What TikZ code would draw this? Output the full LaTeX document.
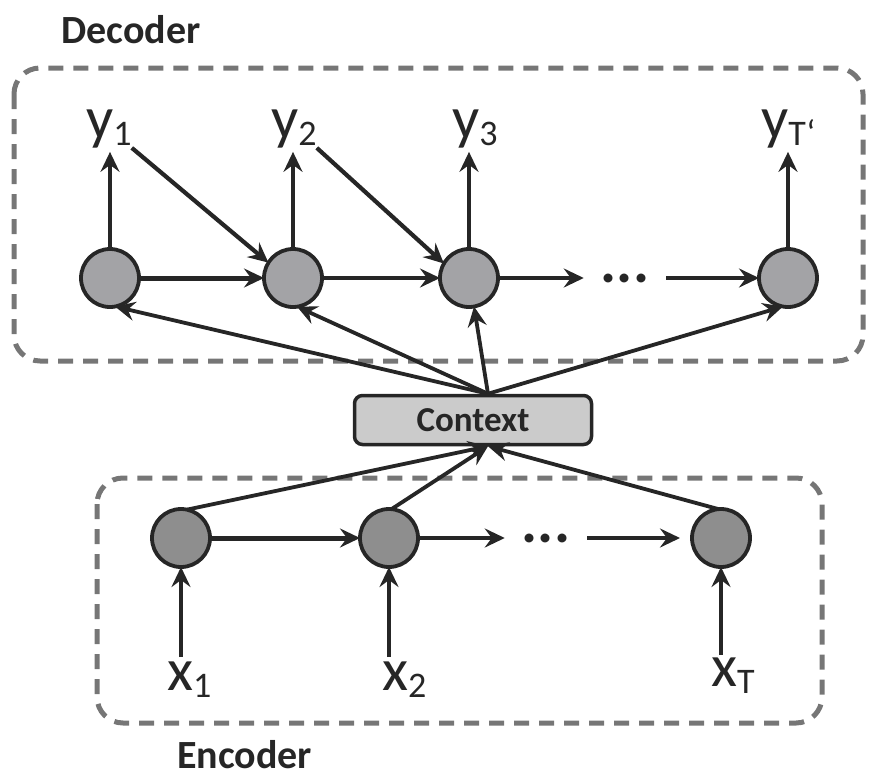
\documentclass[tikz,border=0pt]{standalone}
\usepackage{fontspec}
\setmainfont{Carlito}
\usetikzlibrary{arrows.meta}
\definecolor{ink}{HTML}{262626}
\definecolor{dashgray}{HTML}{767676}
\definecolor{decfill}{HTML}{A3A3A6}
\definecolor{encfill}{HTML}{8E8E8E}
\definecolor{ctxfill}{HTML}{CBCBCB}
\newcommand\lsub[1]{\raisebox{-7.5pt}{\fontsize{36}{36}\selectfont #1}}
\begin{document}
\begin{tikzpicture}[x=1pt,y=-1pt,
  dashbox/.style={draw=dashgray, line width=5pt, dash pattern=on 15pt off 10pt, rounded corners=26pt},
  cell/.style={circle, draw=ink, line width=3.8pt, minimum size=58pt, inner sep=0pt, outer sep=0pt},
  dcell/.style={cell, fill=decfill},
  ecell/.style={cell, fill=encfill},
  arr/.style={draw=ink, line width=3.8pt, -{Stealth[length=20pt,width=19pt,inset=7pt]}},
  thickarr/.style={arr, line width=5pt},
  lab/.style={inner sep=0pt, anchor=base west, text=ink, font=\fontsize{60}{60}\selectfont},
  title/.style={inner sep=0pt, anchor=base west, text=ink, font=\bfseries\fontsize{40}{40}\selectfont},
  dots/.style={inner xsep=17pt, inner ysep=0pt, text=ink, font=\bfseries\fontsize{60}{60}\selectfont},
  ctxbox/.style={draw=ink, fill=ctxfill, line width=3.5pt, rounded corners=8pt, minimum width=237pt, minimum height=49pt, inner sep=0pt, text=ink, font=\bfseries\fontsize{35}{35}\selectfont}
]
\useasboundingbox (0,0) rectangle (875,782);

% frames
\draw[dashbox] (14,68) rectangle (863,361);
\draw[dashbox] (97,478) rectangle (822,723);

% titles
\node[title] (dec) at (61,43) {Decoder};
\node[title] (enc) at (177,768) {Encoder};

% labels
\node[lab] (y1) at (86,138) {y\lsub{1}};
\node[lab] (y2) at (271,138) {y\lsub{2}};
\node[lab] (y3) at (452,138) {y\lsub{3}};
\node[lab] (yT) at (761,138) {y\lsub{T\symbol{"60}}};
\node[lab] (x1) at (167,690) {x\lsub{1}};
\node[lab] (x2) at (382,690) {x\lsub{2}};
\node[lab] (xT) at (711,686) {x\lsub{T}};

% cells
\node[dcell] (d1) at (110,278) {};
\node[dcell] (d2) at (293,278) {};
\node[dcell] (d3) at (469,278) {};
\node[dcell] (d4) at (788,278) {};
\node[ecell] (e1) at (181,538) {};
\node[ecell] (e2) at (389,538) {};
\node[ecell] (e3) at (721,538) {};

\node[ctxbox] (ctx) at (473,420) {Context};

\node[dots] (dd) at (625,278) {...};
\node[dots] (ed) at (546,538) {...};

% decoder chain
\draw[thickarr] (d1) -- (d2);
\draw[arr] (d2) -- (d3);
\draw[arr] (d3) -- (dd);
\draw[arr] (dd) -- (d4);
% encoder chain
\draw[thickarr] (e1) -- (e2);
\draw[arr] (e2) -- (ed);
\draw[arr, shorten >=12pt] (ed) -- (e3);

% outputs
\draw[arr, shorten >=4pt] (d1) -- (d1 |- y1.south);
\draw[arr, shorten >=4pt] (d2) -- (d2 |- y2.south);
\draw[arr, shorten >=4pt] (d3) -- (d3 |- y3.south);
\draw[arr, shorten >=4pt] (d4) -- (d4 |- yT.south);
% feedback
\draw[arr, line width=4.2pt] (y1.south east) -- (d2.148);
\draw[arr, line width=4.2pt] (y2.south east) -- (d3.150);

% inputs
\draw[arr, shorten <=4pt] (e1 |- x1.north) -- (e1);
\draw[arr, shorten <=4pt] (e2 |- x2.north) -- (e2);
\draw[arr, shorten <=2pt] (e3 |- xT.north) -- (e3);

% context to decoder
\draw[arr] ([xshift=15pt]ctx.north) -- (d1.-80);
\draw[arr] ([xshift=15pt]ctx.north) -- (d2.-82);
\draw[arr] ([xshift=15pt]ctx.north) -- (d3.-80);
\draw[arr] ([xshift=15pt]ctx.north) -- (d4.-100);
% encoder to context
\draw[arr] (e1.78) -- ([xshift=15pt]ctx.south);
\draw[arr] (e2.85) -- ([xshift=15pt]ctx.south);
\draw[arr] (e3.95) -- ([xshift=15pt]ctx.south);
\end{tikzpicture}
\end{document}
